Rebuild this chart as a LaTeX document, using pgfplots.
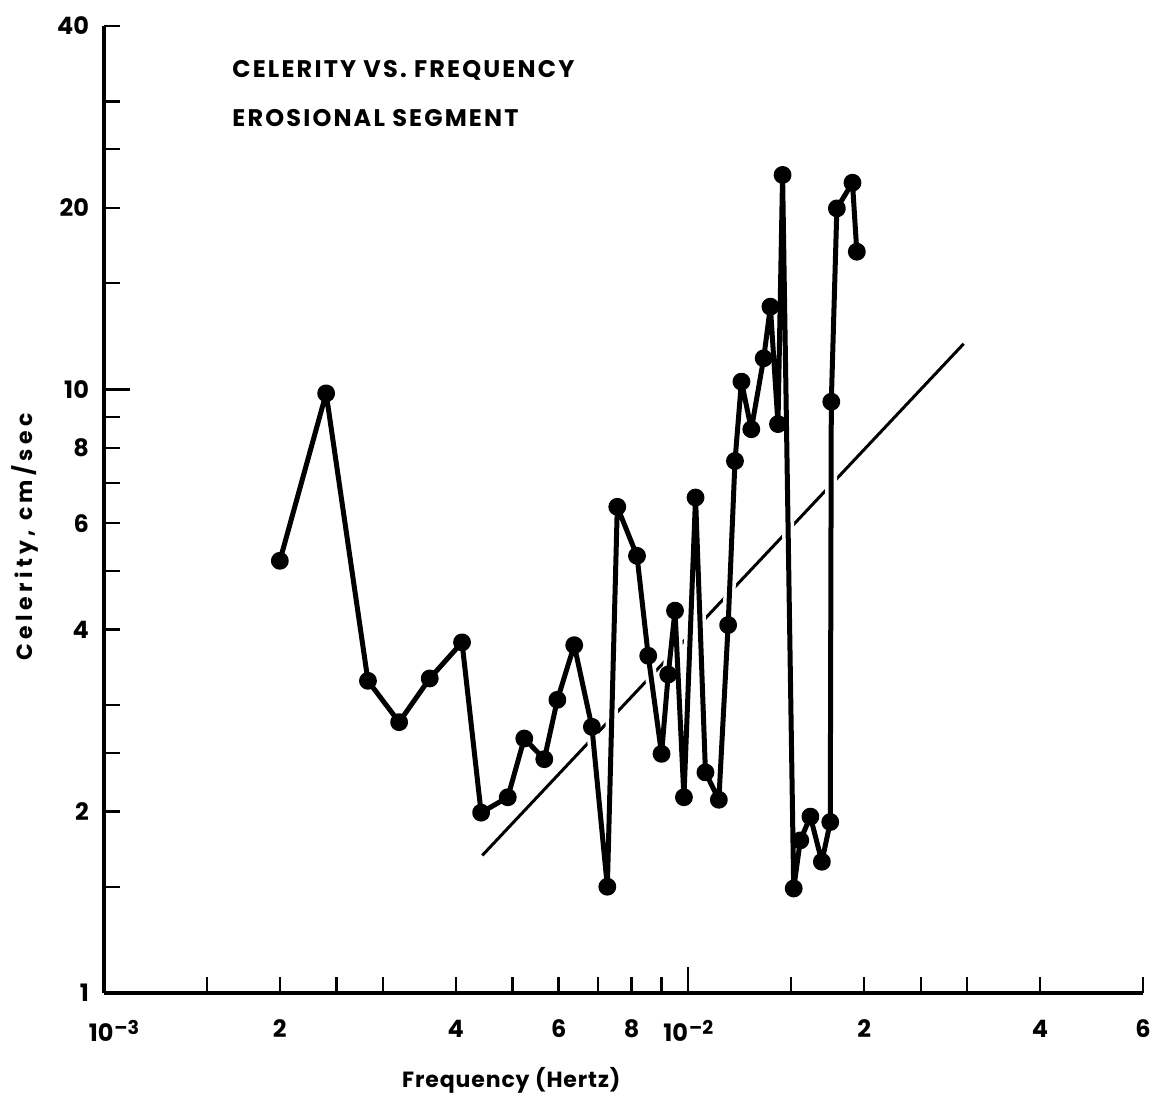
\documentclass[border=0pt]{standalone}
\usepackage{fontspec}
\setmainfont{Poppins}
\newfontfamily\titlefont{Poppins}[LetterSpace=9]
\newfontfamily\ylabelfont{Poppins}[LetterSpace=20]
\newfontfamily\xlabelfont{Poppins}[LetterSpace=4]
\usepackage{pgfplots}
\pgfplotsset{compat=1.18}
\usepackage{pgfplotstable}

% celerity (cm/sec) against frequency (Hz), erosional segment
\pgfplotstableread{
f        c
2.00e-3  5.20
2.40e-3  9.85
2.83e-3  3.29
3.20e-3  2.81
3.61e-3  3.32
4.10e-3  3.81
4.42e-3  1.99
4.91e-3  2.11
5.24e-3  2.64
5.67e-3  2.44
5.97e-3  3.06
6.38e-3  3.77
6.84e-3  2.76
7.27e-3  1.50
7.56e-3  6.39
8.17e-3  5.30
8.54e-3  3.62
9.00e-3  2.49
9.24e-3  3.37
9.49e-3  4.30
9.83e-3  2.11
1.029e-2 6.62
1.070e-2 2.32
1.128e-2 2.09
1.170e-2 4.07
1.202e-2 7.61
1.233e-2 10.30
1.282e-2 8.59
1.346e-2 11.26
1.382e-2 13.71
1.424e-2 8.76
1.450e-2 22.66
1.515e-2 1.49
1.555e-2 1.79
1.618e-2 1.96
1.693e-2 1.65
1.750e-2 1.92
1.757e-2 9.54
1.796e-2 19.95
1.910e-2 22.00
1.943e-2 16.91
}\celerity

% reference line of constant wavelength
\pgfplotstableread{
f        c
4.44e-3  1.69
2.96e-2  11.9
}\trend

% power-of-ten tick label with a large raised exponent
\newcommand{\decade}[1]{10\raisebox{0.55ex}{\fontsize{9.5}{10}\selectfont\kern0.5pt#1}}

\begin{document}
\begin{tikzpicture}
\useasboundingbox (-52pt,-51.5pt) rectangle (524pt,496.5pt);
\begin{axis}[
  xmode=log, ymode=log,
  scale only axis,
  width=519.5pt, height=483.5pt,
  xmin=1e-3, xmax=6e-2, ymin=1, ymax=40,
  axis lines*=left,
  axis line style={line width=1.6pt},
  tick align=inside,
  major tick length=8pt,
  every tick/.style={black, line width=1.2pt},
  minor xtick={}, minor ytick={},
  xtick={1e-3,1.5e-3,2e-3,2.5e-3,3e-3,4e-3,5e-3,6e-3,7e-3,8e-3,9e-3,1.5e-2,2e-2,2.5e-2,3e-2,4e-2,6e-2},
  xticklabels={\hspace{10pt}\decade{--3},,2,,,4,,6,,8,,,2,,,4,6},
  extra x ticks={1e-2},
  extra x tick labels={\decade{--2}},
  extra x tick style={major tick length=13pt},
  ytick={1,1.5,2,2.5,3,4,5,6,7,8,9,15,20,25,30,40},
  yticklabels={1,,2,,,4,,6,,8,,,20,,,40},
  extra y ticks={10},
  extra y tick labels={10},
  extra y tick style={major tick length=13pt},
  ticklabel style={font=\bfseries\fontsize{12}{14}\selectfont},
  xticklabel style={yshift=-10pt},
  yticklabel style={xshift=-4pt},
  clip=false,
]
\addplot[black, line width=1.5pt] table[x=f, y=c] {\trend};
% white casing so the reference line breaks where the curve crosses it
\addplot[white, line width=6pt, line join=round, forget plot] table[x=f, y=c] {\celerity};
\addplot[black, line width=2.5pt, line join=round, line cap=round,
  mark=*, mark size=3.2pt, mark options={fill=black}] table[x=f, y=c] {\celerity};

\node[anchor=west, inner sep=0pt, font=\titlefont\bfseries\fontsize{12}{14}\selectfont]
  at (rel axis cs:0.1232,0.9545) {CELERITY VS. FREQUENCY};
\node[anchor=west, inner sep=0pt, font=\titlefont\bfseries\fontsize{12}{14}\selectfont]
  at (rel axis cs:0.1232,0.9049) {EROSIONAL SEGMENT};
\node[font=\xlabelfont\bfseries\fontsize{11}{13}\selectfont]
  at (rel axis cs:0.392,-0.09) {Frequency (Hertz)};
\node[rotate=90, font=\ylabelfont\bfseries\fontsize{11}{13}\selectfont]
  at (rel axis cs:-0.076,0.4716) {Celerity, cm/sec};
\end{axis}
\end{tikzpicture}
\end{document}
